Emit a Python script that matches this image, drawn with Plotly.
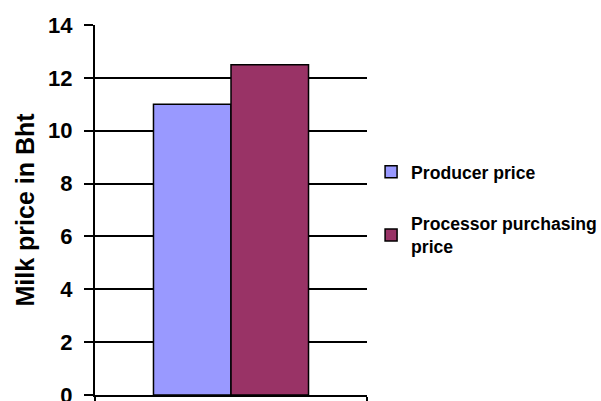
import plotly.graph_objects as go

# Milk prices (Baht per kg)
categories = [""]
series_names = ["Producer price", "Processor purchasing<br>price"]
series_values = [[11.0], [12.5]]
series_colors = ["#9999FF", "#993366"]
y_ticks = [0, 2, 4, 6, 8, 10, 12, 14]

FONT = "Liberation Sans, Arial, sans-serif"

fig = go.Figure()
for i, (name, vals, col) in enumerate(zip(series_names, series_values, series_colors)):
    fig.add_trace(go.Bar(
        x=categories, y=vals, name=name,
        legendgroup=f"g{i}",
        marker=dict(color=col, line=dict(color="black", width=1.5)),
    ))

fig.update_layout(
    width=601, height=401,
    margin=dict(l=95, r=234, t=25, b=6, autoexpand=False),
    paper_bgcolor="white", plot_bgcolor="white",
    barmode="group", bargap=0.43, bargroupgap=0,
    font=dict(family=FONT, color="black"),
    legend=dict(
        x=1.015, xanchor="left", y=0.652, yanchor="top",
        font=dict(family=FONT, size=17.6, color="black", weight="bold"),
        tracegroupgap=26, bgcolor="rgba(0,0,0,0)",
    ),
    xaxis=dict(
        type="category", showline=True, linecolor="black", linewidth=2,
        ticks="outside", tickson="boundaries", ticklen=7, tickwidth=2,
        tickcolor="black", showticklabels=False, showgrid=False,
        automargin=False,
    ),
    yaxis=dict(
        range=[0, 14], tickvals=y_ticks, showline=True, linecolor="black",
        linewidth=2, ticks="outside", ticklen=9, tickwidth=2, tickcolor="black",
        showgrid=True, gridcolor="black", gridwidth=2, zeroline=False,
        automargin=False, ticklabelstandoff=7, ticklabeloverflow="allow",
        tickfont=dict(family=FONT, size=22, color="black", weight="bold"),
        title=dict(text="Milk price in Bht", standoff=6,
                   font=dict(family=FONT, size=25, color="black", weight="bold")),
    ),
)

fig.write_html("out.html")
